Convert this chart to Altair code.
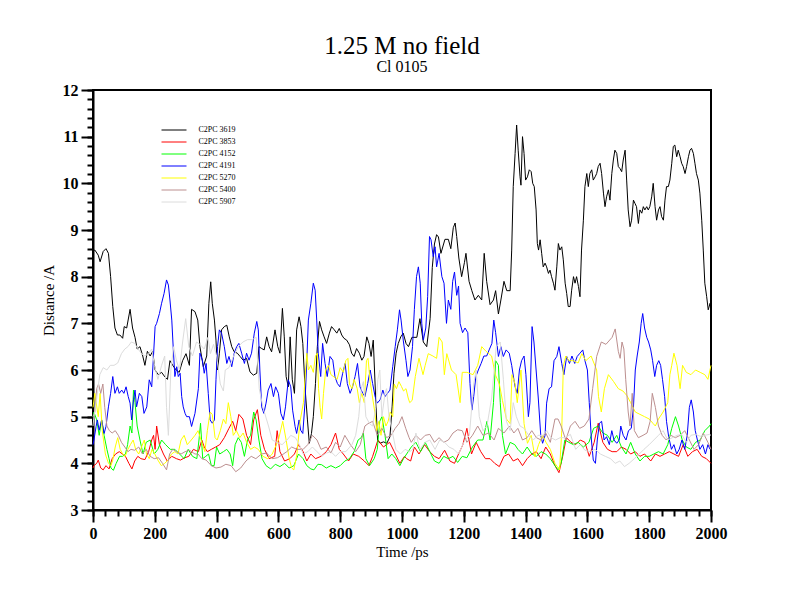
import altair as alt
import pandas as pd

FONT = "Liberation Serif"

NAMES = ["C2PC 3619", "C2PC 3853", "C2PC 4152", "C2PC 4191",
         "C2PC 5270", "C2PC 5400", "C2PC 5907"]
COLORS = ["#000000", "#ff0000", "#00ff00", "#0000ff",
          "#ffff00", "#bc8f8f", "#dcdcdc"]

X_MAJOR = [0, 200, 400, 600, 800, 1000, 1200, 1400, 1600, 1800, 2000]
X_MINOR = list(range(0, 2001, 40))
Y_MAJOR = [3, 4, 5, 6, 7, 8, 9, 10, 11, 12]
Y_MINOR = [round(3 + 0.2 * i, 1) for i in range(46)]

# (time ps, distance A)
S_3619 = [(0, 8.55), (6, 8.57), (17, 8.46), (23, 8.32), (33, 8.54), (42, 8.6), (50, 8.5), (57, 8.0),
          (64, 7.36), (71, 6.9), (79, 6.75), (87, 6.75), (96, 6.68), (101, 6.93), (109, 6.9), (120, 7.3),
          (128, 6.9), (136, 6.7), (143, 6.45), (152, 6.5), (161, 6.3), (168, 6.1), (176, 6.4), (185, 6.3),
          (193, 6.4), (201, 6.0), (211, 5.9), (222, 5.95), (233, 5.85), (241, 5.8), (249, 6.2), (258, 6.1),
          (269, 6.0), (279, 5.95), (290, 6.2), (301, 6.35), (312, 6.1), (319, 7.3), (330, 7.25), (339, 7.07),
          (346, 6.5), (357, 6.07), (368, 6.3), (375, 7.43), (381, 7.89), (386, 7.43), (393, 7.07), (398, 6.64),
          (403, 6.0), (409, 6.36), (416, 6.86), (425, 6.93), (433, 6.96), (441, 6.71), (449, 6.5), (457, 6.39),
          (467, 6.36), (476, 6.29), (486, 6.21), (497, 6.25), (508, 5.96), (519, 5.89), (530, 5.93), (537, 6.5),
          (546, 6.46), (554, 6.43), (562, 6.71), (570, 6.5), (578, 6.39), (589, 6.86), (598, 6.5), (605, 6.36),
          (613, 7.32), (619, 6.71), (625, 5.86), (632, 5.64), (638, 6.71), (645, 5.79), (652, 5.5), (659, 6.86),
          (667, 7.14), (673, 6.93), (679, 6.57), (686, 5.64), (694, 4.93), (700, 4.43), (707, 4.64), (713, 5.0),
          (720, 5.71), (726, 6.5), (733, 7.04), (740, 6.86), (748, 6.71), (756, 6.57), (765, 6.79), (772, 6.93),
          (781, 6.86), (789, 6.79), (797, 6.89), (805, 6.75), (812, 6.68), (821, 6.64), (830, 6.54), (837, 6.36),
          (845, 6.29), (853, 6.46), (862, 6.36), (870, 6.21), (877, 6.29), (886, 6.71), (893, 6.57), (900, 6.29),
          (907, 6.64), (915, 5.36), (921, 4.5), (929, 4.43), (940, 4.46), (951, 4.43), (961, 4.57), (968, 5.21),
          (974, 5.93), (981, 6.36), (988, 6.57), (996, 6.71), (1004, 6.79), (1013, 6.57), (1021, 6.5), (1032, 6.7),
          (1048, 6.7), (1058, 7.1), (1069, 6.6), (1080, 6.5), (1091, 7.1), (1098, 8.2), (1105, 8.7), (1112, 8.9),
          (1118, 8.85), (1126, 8.5), (1139, 8.8), (1150, 8.8), (1158, 8.6), (1166, 9.05), (1172, 9.15), (1177, 8.86),
          (1184, 8.4), (1193, 8.0), (1202, 8.3), (1207, 8.5), (1217, 7.9), (1226, 7.7), (1236, 7.5), (1247, 7.6),
          (1258, 7.5), (1266, 8.5), (1274, 7.9), (1285, 7.4), (1296, 7.5), (1303, 7.7), (1312, 7.2), (1320, 7.5),
          (1330, 7.9), (1339, 7.7), (1350, 7.7), (1355, 8.57), (1360, 9.93), (1366, 10.64), (1371, 11.25),
          (1376, 10.71), (1382, 10.14), (1385, 9.96), (1390, 11.0), (1395, 10.64), (1400, 10.07), (1406, 10.14),
          (1412, 10.29), (1418, 10.25), (1423, 10.0), (1428, 9.93), (1434, 9.43), (1438, 8.71), (1442, 8.57),
          (1447, 8.79), (1452, 8.5), (1457, 8.21), (1463, 8.29), (1468, 8.21), (1474, 8.07), (1479, 8.14),
          (1484, 8.0), (1490, 7.86), (1495, 7.71), (1501, 8.21), (1506, 8.71), (1511, 8.57), (1517, 8.64),
          (1522, 8.36), (1528, 7.86), (1533, 7.64), (1538, 7.36), (1544, 7.36), (1549, 7.71), (1555, 8.0),
          (1560, 7.86), (1565, 8.0), (1571, 7.79), (1576, 7.57), (1581, 8.57), (1587, 9.21), (1592, 9.93),
          (1598, 10.21), (1603, 9.93), (1608, 10.21), (1614, 10.29), (1619, 10.07), (1625, 10.14), (1630, 10.21),
          (1635, 10.36), (1641, 10.43), (1646, 10.21), (1652, 9.79), (1657, 9.5), (1662, 9.71), (1668, 9.86),
          (1673, 9.64), (1679, 10.21), (1684, 10.5), (1689, 10.71), (1695, 10.64), (1700, 10.36), (1705, 10.32),
          (1711, 10.25), (1716, 10.5), (1722, 10.71), (1727, 10.07), (1732, 9.43), (1738, 9.07), (1743, 9.21),
          (1749, 9.64), (1754, 9.57), (1759, 9.5), (1765, 9.14), (1770, 9.43), (1776, 9.36), (1781, 9.5),
          (1786, 9.43), (1792, 9.5), (1797, 9.43), (1802, 9.5), (1808, 9.71), (1813, 10.0), (1819, 9.5),
          (1824, 9.21), (1830, 9.43), (1835, 9.5), (1840, 9.29), (1846, 9.21), (1851, 9.64), (1856, 9.93),
          (1862, 9.93), (1867, 10.07), (1873, 10.43), (1878, 10.79), (1883, 10.82), (1889, 10.57), (1894, 10.71),
          (1900, 10.57), (1905, 10.43), (1910, 10.36), (1916, 10.21), (1921, 10.36), (1927, 10.57), (1932, 10.71),
          (1937, 10.75), (1943, 10.64), (1948, 10.43), (1953, 10.21), (1959, 10.07), (1964, 9.79), (1970, 9.21),
          (1975, 8.57), (1980, 7.86), (1986, 7.57), (1991, 7.29), (1997, 7.43), (2000, 7.3)]

S_3853 = [(0, 3.9), (3, 3.95), (12, 4.0), (17, 4.07), (25, 3.9), (33, 3.86), (42, 3.95), (52, 3.88), (62, 4.1),
          (73, 4.2), (85, 4.25), (95, 4.2), (105, 4.15), (116, 4.0), (126, 3.88), (135, 4.05), (145, 4.15),
          (155, 4.1), (168, 4.08), (180, 4.25), (190, 4.5), (196, 4.6), (201, 4.3), (206, 4.8), (215, 4.4),
          (228, 4.2), (240, 4.05), (255, 4.15), (270, 4.1), (283, 4.07), (297, 4.12), (310, 4.15), (325, 4.3),
          (341, 4.25), (352, 4.5), (360, 4.35), (370, 4.25), (383, 4.3), (397, 4.35), (410, 4.4), (425, 4.55),
          (440, 4.75), (452, 4.9), (462, 4.7), (472, 5.05), (485, 4.95), (497, 4.6), (510, 4.4), (520, 4.93),
          (532, 5.15), (543, 4.6), (555, 4.3), (570, 4.1), (588, 4.15), (596, 4.7), (605, 4.25), (620, 4.05),
          (637, 4.1), (652, 4.2), (665, 4.4), (680, 4.25), (692, 4.05), (705, 4.2), (720, 4.1), (738, 4.15),
          (755, 4.25), (770, 4.4), (785, 4.65), (797, 4.3), (810, 4.2), (827, 4.05), (842, 4.2), (860, 4.15),
          (878, 4.05), (893, 3.95), (905, 4.15), (922, 4.5), (940, 4.35), (960, 4.45), (975, 4.25), (993, 4.0),
          (1008, 4.15), (1015, 4.1), (1028, 4.05), (1040, 4.35), (1055, 4.2), (1073, 4.4), (1090, 4.25),
          (1105, 4.15), (1120, 4.1), (1138, 4.28), (1155, 4.05), (1170, 4.0), (1183, 4.2), (1197, 4.4),
          (1210, 4.75), (1225, 4.2), (1240, 4.45), (1255, 4.25), (1270, 4.1), (1285, 4.1), (1300, 4.0),
          (1315, 3.93), (1330, 4.15), (1345, 4.2), (1360, 4.05), (1375, 4.1), (1390, 3.95), (1405, 4.1),
          (1420, 4.2), (1435, 4.25), (1450, 4.1), (1465, 4.35), (1480, 4.2), (1495, 3.95), (1508, 3.8),
          (1520, 4.15), (1532, 4.55), (1547, 4.45), (1562, 4.4), (1577, 4.5), (1592, 4.45), (1606, 4.15),
          (1622, 4.45), (1635, 4.86), (1650, 4.45), (1665, 4.3), (1680, 4.25), (1695, 4.25), (1710, 4.35),
          (1725, 4.3), (1740, 4.2), (1755, 4.25), (1770, 4.15), (1785, 4.2), (1805, 4.05), (1820, 4.2),
          (1835, 4.15), (1850, 4.2), (1865, 4.25), (1880, 4.2), (1895, 4.15), (1910, 4.4), (1925, 4.15),
          (1940, 4.25), (1955, 4.3), (1970, 4.15), (1985, 4.1), (2000, 4.0)]

S_4152 = [(0, 5.0), (3, 5.1), (12, 4.93), (20, 4.6), (28, 4.93), (36, 4.6), (45, 4.3), (52, 4.1), (58, 3.9),
          (66, 3.85), (75, 4.0), (86, 4.15), (96, 4.15), (105, 4.2), (112, 4.4), (120, 4.8), (126, 4.65),
          (131, 5.57), (136, 5.3), (143, 4.8), (152, 4.5), (162, 4.2), (172, 4.45), (185, 4.5), (198, 4.2),
          (210, 4.3), (222, 4.5), (235, 4.4), (250, 4.3), (265, 4.3), (280, 4.2), (295, 4.1), (308, 4.3),
          (322, 4.15), (336, 4.1), (343, 4.5), (348, 4.86), (355, 4.1), (365, 4.15), (374, 4.2), (383, 3.95),
          (392, 3.95), (400, 4.35), (410, 4.2), (422, 4.25), (433, 4.3), (444, 4.2), (452, 3.95), (460, 4.4),
          (470, 4.55), (480, 4.45), (490, 4.15), (500, 4.5), (510, 4.6), (520, 5.1), (528, 4.93), (537, 4.5),
          (547, 4.1), (560, 3.95), (575, 3.88), (590, 3.98), (605, 3.93), (620, 4.0), (635, 3.9), (650, 3.95),
          (665, 4.2), (680, 4.1), (692, 3.95), (705, 3.88), (715, 3.86), (728, 3.98), (740, 3.97), (755, 3.9),
          (770, 3.95), (785, 3.9), (800, 3.95), (815, 4.05), (830, 4.1), (845, 4.25), (858, 4.5), (868, 4.55),
          (875, 4.65), (883, 4.1), (895, 3.95), (910, 4.1), (920, 4.3), (928, 4.9), (935, 5.0), (945, 4.6),
          (955, 4.1), (967, 4.2), (980, 4.1), (993, 3.95), (1005, 4.1), (1015, 4.2), (1030, 4.35), (1045, 4.45),
          (1060, 4.25), (1075, 4.45), (1090, 4.25), (1105, 4.05), (1120, 4.0), (1135, 4.15), (1150, 4.1),
          (1165, 4.15), (1180, 4.02), (1195, 4.15), (1210, 4.12), (1228, 4.35), (1245, 4.5), (1262, 4.5),
          (1275, 4.9), (1285, 4.5), (1296, 5.3), (1303, 6.2), (1312, 6.1), (1318, 5.3), (1325, 4.6), (1335, 4.2),
          (1350, 4.45), (1365, 4.4), (1375, 4.3), (1390, 4.2), (1405, 4.35), (1420, 4.2), (1435, 4.15),
          (1450, 4.25), (1465, 4.2), (1480, 4.1), (1495, 3.95), (1505, 3.86), (1515, 4.0), (1527, 4.5),
          (1540, 4.45), (1555, 4.4), (1570, 4.45), (1587, 4.35), (1605, 4.45), (1620, 4.75), (1635, 4.8),
          (1650, 4.65), (1665, 4.6), (1680, 4.45), (1695, 4.6), (1710, 4.35), (1725, 4.2), (1740, 4.45),
          (1755, 4.2), (1770, 4.05), (1785, 4.15), (1800, 4.15), (1815, 4.2), (1830, 4.25), (1845, 4.2),
          (1860, 4.4), (1873, 4.75), (1885, 5.0), (1895, 4.8), (1907, 4.5), (1920, 4.35), (1935, 4.3),
          (1950, 4.45), (1965, 4.5), (1980, 4.7), (1995, 4.8), (2000, 4.85)]

S_4191 = [(0, 4.4), (3, 4.5), (10, 4.79), (14, 4.93), (20, 4.71), (28, 4.93), (36, 4.64), (42, 4.79), (50, 5.21),
          (57, 5.5), (64, 5.86), (71, 5.5), (79, 5.64), (85, 5.5), (93, 5.57), (100, 5.5), (107, 5.64), (114, 5.43),
          (120, 5.29), (125, 4.93), (131, 5.36), (136, 5.57), (141, 5.21), (150, 5.5), (158, 5.43), (165, 5.07),
          (174, 5.21), (182, 5.79), (190, 5.64), (195, 6.21), (201, 6.93), (206, 7.0), (215, 7.21), (222, 7.43),
          (230, 7.64), (238, 7.93), (244, 7.82), (249, 7.5), (255, 7.07), (260, 6.43), (265, 5.86), (271, 6.07),
          (276, 5.86), (282, 5.93), (287, 5.43), (292, 5.21), (298, 5.07), (303, 5.0), (312, 5.0), (319, 4.79),
          (330, 5.07), (341, 5.6), (346, 6.36), (354, 6.21), (360, 5.93), (366, 6.14), (373, 5.5), (379, 4.93),
          (386, 4.86), (393, 4.93), (398, 5.79), (403, 6.5), (409, 6.86), (416, 6.79), (425, 6.5), (433, 6.14),
          (440, 6.29), (449, 6.07), (457, 6.36), (465, 6.5), (472, 6.57), (481, 6.36), (490, 6.14), (497, 6.36),
          (505, 6.21), (513, 6.36), (522, 6.79), (530, 7.04), (535, 6.86), (540, 6.0), (546, 5.21), (553, 5.07),
          (560, 5.29), (567, 5.57), (576, 5.71), (584, 5.43), (591, 5.64), (600, 5.5), (608, 5.07), (616, 4.93),
          (623, 5.21), (632, 5.79), (640, 5.64), (646, 5.14), (654, 4.79), (659, 4.64), (667, 4.93), (672, 4.71),
          (679, 4.64), (686, 5.29), (692, 6.21), (697, 7.07), (705, 7.43), (713, 7.86), (719, 7.71), (724, 7.07),
          (729, 6.36), (737, 5.86), (743, 6.57), (751, 6.14), (758, 5.86), (767, 6.29), (776, 6.21), (783, 5.86),
          (791, 5.71), (799, 5.64), (808, 5.93), (816, 6.14), (823, 5.71), (832, 5.5), (840, 5.64), (848, 5.86),
          (856, 6.14), (864, 5.64), (873, 5.5), (880, 5.43), (889, 5.71), (897, 6.0), (905, 5.71), (913, 5.43),
          (920, 5.29), (929, 5.36), (938, 5.57), (945, 5.43), (953, 5.5), (961, 5.57), (970, 6.07), (978, 6.5),
          (985, 6.86), (992, 7.29), (997, 7.07), (1004, 6.64), (1013, 6.2), (1019, 5.86), (1026, 6.0),
          (1034, 6.5), (1040, 7.3), (1047, 8.0), (1053, 8.21), (1059, 7.86), (1064, 7.0), (1069, 6.64),
          (1077, 6.9), (1083, 7.57), (1089, 8.86), (1094, 8.79), (1101, 8.43), (1107, 8.64), (1112, 8.21),
          (1120, 8.5), (1129, 8.0), (1136, 7.86), (1144, 7.0), (1150, 7.5), (1158, 7.3), (1164, 7.9), (1170, 8.1),
          (1177, 7.6), (1183, 7.8), (1188, 7.0), (1196, 6.8), (1204, 6.9), (1213, 6.8), (1220, 5.71),
          (1226, 5.14), (1232, 5.43), (1239, 5.86), (1247, 6.0), (1256, 6.14), (1265, 6.3), (1274, 6.3),
          (1282, 6.43), (1291, 6.57), (1297, 7.07), (1303, 6.8), (1312, 6.29), (1320, 6.5), (1328, 6.29),
          (1337, 6.43), (1347, 6.36), (1355, 6.1), (1362, 5.8), (1366, 5.64), (1373, 5.5), (1380, 6.0),
          (1387, 6.2), (1395, 6.3), (1401, 5.9), (1409, 5.0), (1414, 5.3), (1421, 6.93), (1427, 6.6), (1434, 6.0),
          (1441, 5.4), (1449, 4.6), (1455, 4.43), (1463, 4.6), (1468, 5.29), (1476, 5.6), (1484, 5.64),
          (1492, 6.2), (1501, 6.29), (1508, 6.5), (1517, 6.14), (1524, 5.9), (1533, 6.29), (1542, 6.14),
          (1550, 6.3), (1559, 6.14), (1567, 6.29), (1576, 6.36), (1585, 6.43), (1592, 6.2), (1600, 6.0),
          (1606, 5.3), (1613, 4.5), (1619, 4.07), (1626, 4.0), (1632, 4.5), (1639, 4.86), (1646, 4.9),
          (1654, 4.5), (1662, 4.57), (1671, 4.4), (1679, 4.7), (1686, 4.5), (1695, 4.43), (1703, 4.5),
          (1708, 4.8), (1716, 4.6), (1725, 4.5), (1733, 4.7), (1742, 4.75), (1749, 5.2), (1755, 6.0),
          (1761, 6.3), (1768, 6.6), (1774, 7.0), (1779, 7.21), (1785, 6.9), (1792, 6.7), (1798, 6.6),
          (1805, 6.43), (1811, 6.2), (1818, 5.86), (1824, 6.1), (1831, 6.2), (1837, 6.1), (1843, 5.8),
          (1850, 5.43), (1856, 4.9), (1863, 4.57), (1872, 4.3), (1880, 4.4), (1889, 4.2), (1897, 4.3),
          (1906, 4.5), (1915, 4.3), (1923, 4.6), (1930, 5.2), (1936, 5.36), (1943, 5.1), (1949, 4.7),
          (1956, 4.5), (1964, 4.3), (1973, 4.4), (1982, 4.2), (1990, 4.4), (1997, 4.3)]

S_5270 = [(0, 5.2), (6, 5.5), (17, 5.0), (23, 5.5), (30, 4.7), (40, 4.2), (50, 4.0), (58, 3.95), (64, 4.07),
          (72, 4.35), (80, 4.55), (88, 4.3), (96, 4.2), (104, 4.15), (113, 4.3), (121, 4.4), (130, 4.5),
          (138, 4.3), (148, 4.2), (157, 4.35), (166, 4.5), (173, 4.2), (182, 4.1), (191, 4.3), (200, 4.2),
          (210, 4.07), (221, 3.95), (232, 4.0), (243, 4.07), (254, 4.2), (265, 4.25), (275, 4.2), (285, 4.5),
          (295, 4.6), (305, 4.4), (318, 4.5), (330, 4.6), (340, 4.7), (352, 4.45), (362, 4.25), (370, 4.7),
          (379, 5.1), (386, 5.05), (395, 4.55), (402, 4.5), (412, 4.7), (422, 4.95), (430, 4.85), (438, 5.3),
          (446, 5.0), (454, 4.6), (464, 4.7), (475, 4.55), (486, 4.65), (497, 4.45), (510, 4.3), (522, 4.35),
          (535, 4.3), (550, 4.15), (565, 4.1), (580, 4.2), (600, 4.5), (614, 4.9), (625, 4.5), (635, 4.1),
          (643, 3.9), (650, 3.86), (660, 4.2), (670, 4.9), (681, 5.3), (688, 6.0), (692, 6.36), (697, 6.0),
          (705, 6.1), (713, 5.95), (720, 6.3), (726, 6.36), (730, 5.6), (735, 5.2), (740, 4.95), (746, 5.5),
          (753, 6.0), (762, 6.1), (770, 5.9), (780, 5.85), (790, 5.8), (800, 6.05), (810, 5.95), (818, 6.2),
          (825, 6.25), (830, 5.7), (838, 5.6), (845, 5.8), (855, 5.6), (862, 5.3), (870, 5.5), (878, 5.3),
          (885, 6.2), (890, 6.25), (897, 5.75), (905, 5.4), (912, 5.1), (918, 4.7), (925, 4.9), (932, 4.6),
          (940, 5.0), (948, 4.8), (955, 4.9), (962, 5.1), (970, 5.0), (975, 5.7), (982, 5.6), (990, 5.75),
          (998, 5.65), (1005, 5.55), (1013, 5.6), (1020, 5.4), (1025, 5.3), (1033, 5.35), (1043, 5.86),
          (1055, 6.25), (1068, 5.9), (1075, 6.1), (1085, 6.35), (1100, 6.3), (1112, 6.25), (1120, 6.7),
          (1130, 6.6), (1137, 5.9), (1145, 6.35), (1160, 6.0), (1175, 5.9), (1188, 5.3), (1195, 5.95),
          (1210, 5.95), (1230, 5.9), (1245, 6.1), (1258, 6.5), (1272, 6.4), (1290, 6.3), (1302, 5.9),
          (1315, 5.7), (1325, 5.35), (1338, 4.95), (1350, 4.85), (1356, 5.9), (1366, 5.7), (1373, 5.3),
          (1385, 6.0), (1395, 4.85), (1406, 4.43), (1418, 4.6), (1430, 4.14), (1442, 4.4), (1455, 4.6),
          (1466, 4.45), (1480, 4.3), (1495, 4.0), (1510, 3.86), (1517, 4.7), (1522, 6.07), (1530, 6.3),
          (1540, 6.2), (1555, 6.2), (1570, 6.15), (1582, 6.35), (1595, 6.2), (1612, 6.3), (1630, 6.0),
          (1636, 5.43), (1645, 5.1), (1655, 5.6), (1668, 5.9), (1685, 5.75), (1700, 5.6), (1715, 5.55),
          (1728, 5.45), (1740, 5.3), (1755, 5.1), (1770, 5.05), (1785, 5.0), (1800, 4.95), (1813, 4.85),
          (1820, 4.8), (1830, 4.95), (1845, 5.1), (1860, 5.3), (1867, 5.9), (1873, 6.1), (1880, 6.36),
          (1890, 6.1), (1900, 5.6), (1908, 6.1), (1920, 5.95), (1935, 5.9), (1950, 6.0), (1965, 5.95),
          (1980, 5.9), (1990, 5.8), (2000, 6.1)]

S_5400 = [(0, 5.0), (6, 5.1), (12, 5.6), (18, 5.7), (25, 5.5), (32, 5.7), (38, 5.2), (45, 4.8), (53, 4.7),
          (62, 4.65), (72, 4.7), (82, 4.6), (92, 4.45), (103, 4.35), (113, 4.25), (123, 4.3), (135, 4.28),
          (148, 4.35), (160, 4.2), (172, 4.3), (185, 4.15), (198, 4.1), (212, 4.12), (225, 4.0), (238, 3.86),
          (248, 4.2), (258, 4.3), (270, 4.25), (285, 4.2), (298, 4.25), (312, 4.28), (330, 4.2), (340, 4.2),
          (352, 4.1), (366, 4.07), (383, 3.95), (398, 3.9), (414, 3.92), (430, 3.98), (447, 3.95), (462, 3.82),
          (478, 3.9), (495, 4.05), (512, 4.15), (527, 4.1), (545, 4.2), (562, 4.22), (580, 4.1), (597, 4.12),
          (612, 4.18), (627, 4.25), (643, 4.35), (660, 4.3), (680, 4.3), (695, 4.4), (710, 4.6), (725, 4.5),
          (738, 4.3), (755, 4.35), (770, 4.22), (785, 4.45), (800, 4.35), (815, 4.6), (833, 4.4), (850, 4.25),
          (865, 4.4), (880, 4.8), (890, 4.85), (905, 4.9), (920, 4.6), (935, 4.75), (950, 4.55), (965, 4.6),
          (978, 4.75), (990, 4.85), (1000, 5.0), (1012, 4.75), (1023, 4.55), (1030, 4.45), (1045, 4.6),
          (1060, 4.5), (1075, 4.6), (1090, 4.62), (1105, 4.45), (1120, 4.55), (1135, 4.45), (1150, 4.5),
          (1165, 4.65), (1180, 4.72), (1195, 4.7), (1210, 4.45), (1228, 4.6), (1245, 4.8), (1262, 4.6),
          (1280, 4.65), (1298, 4.5), (1312, 4.75), (1330, 4.65), (1348, 4.8), (1362, 4.65), (1375, 4.75),
          (1390, 4.5), (1405, 4.55), (1420, 4.7), (1435, 4.55), (1450, 4.5), (1465, 4.65), (1480, 4.45),
          (1495, 4.95), (1505, 4.95), (1515, 4.8), (1530, 4.5), (1545, 4.8), (1560, 4.9), (1575, 4.75),
          (1590, 4.8), (1605, 4.95), (1617, 5.6), (1630, 6.29), (1645, 6.6), (1660, 6.55), (1680, 6.7),
          (1690, 6.88), (1700, 6.4), (1706, 6.25), (1712, 6.6), (1718, 6.45), (1724, 5.8), (1732, 5.1),
          (1738, 4.8), (1745, 5.5), (1752, 4.7), (1765, 4.55), (1780, 4.6), (1793, 4.65), (1803, 4.9),
          (1810, 5.5), (1820, 5.2), (1830, 4.8), (1842, 4.6), (1855, 4.5), (1870, 4.6), (1885, 4.55),
          (1900, 4.6), (1915, 4.7), (1930, 4.5), (1945, 4.3), (1960, 4.4), (1975, 4.65), (1990, 4.45),
          (2000, 4.3)]

S_5907 = [(0, 4.8), (3, 5.0), (12, 5.4), (22, 5.9), (33, 6.05), (45, 6.0), (56, 6.1), (68, 6.1), (80, 6.15),
          (92, 6.35), (103, 6.45), (113, 6.5), (124, 6.6), (135, 6.57), (146, 6.45), (157, 6.35), (168, 6.3),
          (180, 6.35), (190, 6.45), (199, 6.1), (210, 5.8), (222, 6.1), (232, 6.3), (238, 5.2), (244, 4.6),
          (252, 6.0), (261, 6.5), (270, 6.2), (280, 6.0), (290, 6.6), (300, 7.1), (310, 6.5), (322, 6.3),
          (335, 6.6), (346, 6.55), (360, 6.45), (372, 6.7), (380, 6.35), (390, 6.55), (400, 6.3), (412, 5.7),
          (422, 5.55), (428, 6.0), (440, 6.05), (455, 6.3), (470, 6.5), (485, 6.6), (500, 6.65), (515, 6.65),
          (528, 6.7), (538, 5.6), (550, 5.2), (568, 4.8), (580, 4.5), (595, 4.45), (612, 4.4), (628, 4.5),
          (640, 4.6), (655, 4.55), (668, 4.4), (680, 4.2), (695, 4.25), (710, 4.35), (725, 4.25), (740, 4.15),
          (755, 4.22), (770, 4.25), (785, 4.15), (800, 4.25), (818, 4.25), (838, 4.4), (850, 4.6), (860, 5.0),
          (868, 5.6), (875, 5.75), (883, 5.0), (895, 4.85), (905, 4.8), (915, 5.2), (922, 5.8), (928, 6.0),
          (935, 5.0), (945, 5.5), (950, 5.6), (958, 5.0), (968, 4.7), (980, 4.3), (995, 4.2), (1010, 4.3),
          (1025, 4.25), (1035, 4.3), (1045, 4.65), (1058, 4.3), (1075, 4.45), (1090, 4.5), (1107, 4.3),
          (1122, 4.5), (1138, 4.45), (1152, 4.35), (1168, 4.3), (1183, 4.2), (1200, 4.45), (1218, 4.6),
          (1232, 5.7), (1240, 6.0), (1250, 5.0), (1262, 4.7), (1275, 4.8), (1290, 5.4), (1305, 6.5),
          (1318, 6.6), (1328, 5.8), (1338, 4.9), (1350, 4.7), (1360, 5.3), (1370, 5.0), (1382, 4.8),
          (1395, 4.75), (1410, 4.6), (1425, 4.5), (1440, 4.6), (1455, 4.6), (1468, 4.7), (1482, 4.55),
          (1497, 4.5), (1512, 4.55), (1527, 4.55), (1545, 4.62), (1562, 4.3), (1577, 4.4), (1592, 4.28),
          (1610, 4.25), (1625, 4.3), (1642, 4.2), (1658, 4.15), (1675, 4.1), (1690, 4.0), (1705, 4.05),
          (1720, 3.93), (1735, 4.0), (1752, 4.1), (1768, 4.2), (1783, 4.3), (1800, 4.4), (1815, 4.5),
          (1830, 4.6), (1845, 4.7), (1860, 4.5), (1875, 4.55), (1890, 4.6), (1905, 4.62), (1920, 4.45),
          (1935, 4.6), (1950, 4.62), (1965, 4.58), (1980, 4.6), (1995, 4.62), (2000, 4.6)]

SERIES = [S_3619, S_3853, S_4152, S_4191, S_5270, S_5400, S_5907]

rows = []
for name, pts in zip(NAMES, SERIES):
    for t, d in pts:
        rows.append({"t": t, "d": d, "set": name})
df = pd.DataFrame(rows)

xs = alt.Scale(domain=[0, 2000], nice=False, zero=False)
ys = alt.Scale(domain=[3, 12], nice=False, zero=False)

lines = alt.Chart(df).mark_line(strokeWidth=1).encode(
    x=alt.X("t:Q", scale=xs,
            axis=alt.Axis(values=X_MAJOR, orient="bottom", title="Time /ps", format="d",
                          tickSize=12, labelPadding=3, titlePadding=3,
                          labelFontSize=16, labelFontWeight="bold",
                          titleFontSize=15, titleFontWeight="normal",
                          labelOverlap=False, grid=False, labelFlush=False)),
    y=alt.Y("d:Q", scale=ys,
            axis=alt.Axis(values=Y_MAJOR, orient="left", title="Distance /A", format="d",
                          tickSize=12, labelPadding=3, titlePadding=6,
                          labelFontSize=16, labelFontWeight="bold",
                          titleFontSize=15, titleFontWeight="normal",
                          labelOverlap=False, grid=False)),
    color=alt.Color("set:N",
                    scale=alt.Scale(domain=NAMES, range=COLORS),
                    legend=alt.Legend(title=None, orient="none", legendX=75.5, legendY=34.5,
                                      symbolType="M-2.5,0H2.5", symbolSize=100, symbolStrokeWidth=1,
                                      labelFont=FONT, labelFontSize=8, labelColor="black",
                                      labelOffset=19, rowPadding=2, padding=0)),
)

frame = pd.DataFrame({"t": [X_MAJOR[0], X_MAJOR[-1]], "d": [Y_MAJOR[0], Y_MAJOR[-1]]})
minor = alt.Chart(frame).mark_point(opacity=0).encode(
    x=alt.X("t:Q", scale=xs,
            axis=alt.Axis(values=X_MINOR, orient="bottom", labels=False, tickSize=6,
                          domain=False, grid=False, title=None)),
    y=alt.Y("d:Q", scale=ys,
            axis=alt.Axis(values=Y_MINOR, orient="left", labels=False, tickSize=6,
                          domain=False, grid=False, title=None)),
)

chart = alt.layer(minor, lines).resolve_axis(x="independent", y="independent").properties(
    width=618, height=420,
    title=alt.TitleParams(text="1.25 M no field", subtitle="Cl 0105",
                          font=FONT, fontSize=25, fontWeight="normal", color="black",
                          subtitleFont=FONT, subtitleFontSize=16, subtitleColor="black",
                          anchor="middle", offset=7, subtitlePadding=0),
    autosize=alt.AutoSizeParams(type="none"),
    padding={"left": 85, "top": 82, "right": 81, "bottom": 82},
    background="white",
).configure_view(stroke="black", strokeWidth=2).configure_axis(
    domainColor="black", domainWidth=2, tickColor="black", tickWidth=2,
    labelFont=FONT, titleFont=FONT, labelColor="black", titleColor="black",
)

chart.save("out.html", embed_options={"renderer": "svg", "actions": False})
